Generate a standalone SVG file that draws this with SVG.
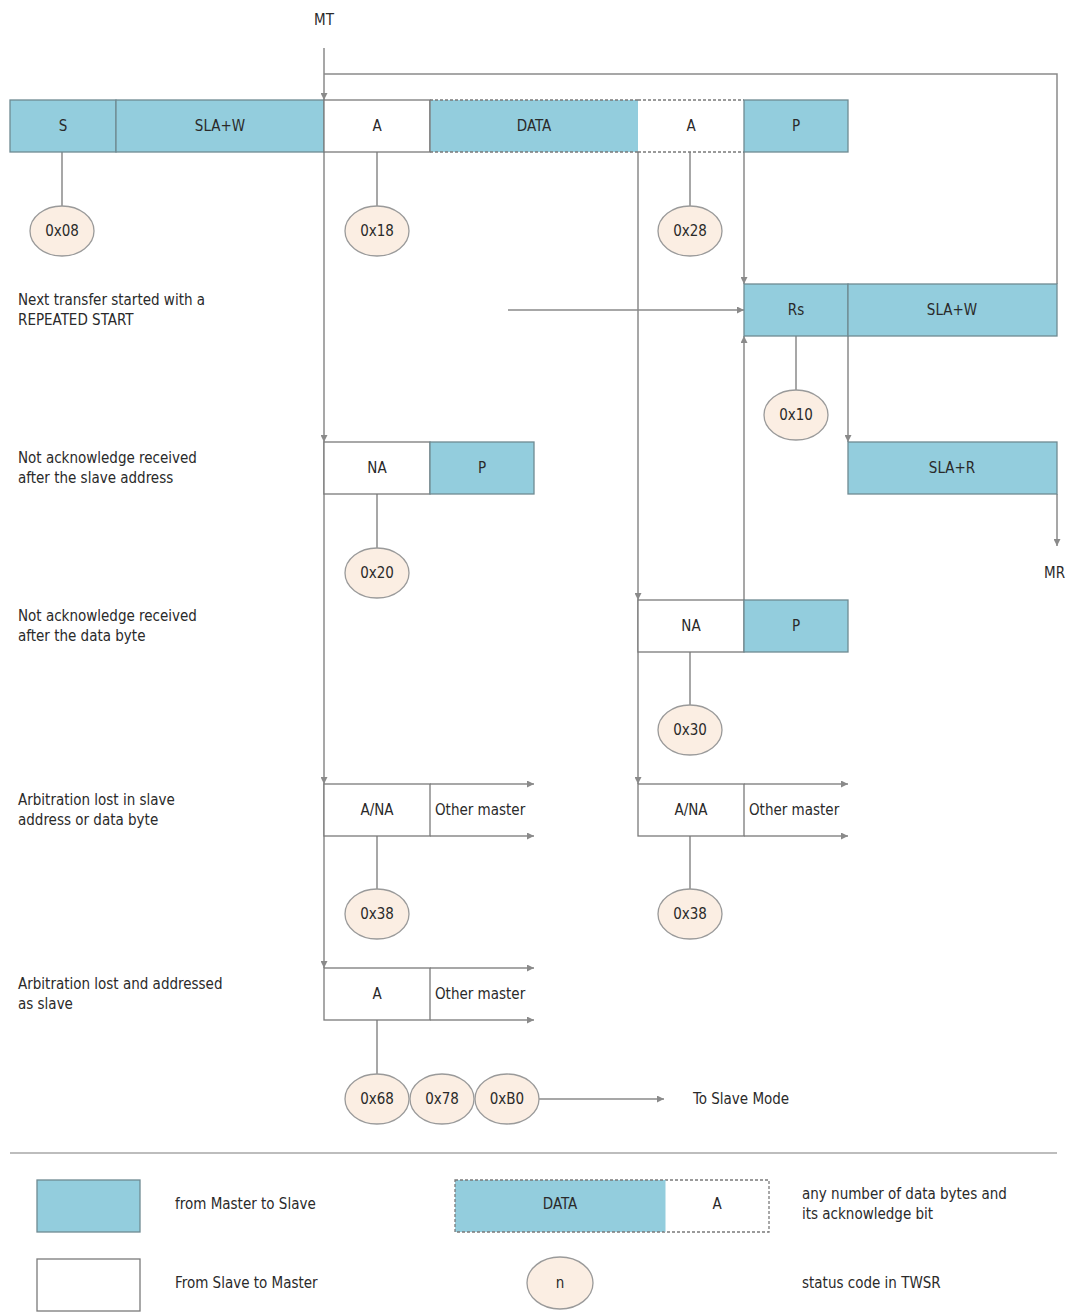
<svg xmlns="http://www.w3.org/2000/svg" width="1067" height="1312" viewBox="0 0 1067 1312">
<defs>
<marker id="ah" viewBox="0 0 10 10" refX="10" refY="5" markerWidth="7" markerHeight="7" orient="auto" markerUnits="userSpaceOnUse">
<path d="M0,0 L10,5 L0,10 Z" fill="#8a8a8a"/>
</marker>
<style>
text{font-family:"DejaVu Sans Condensed","Liberation Sans Narrow","Liberation Sans",sans-serif;font-size:15px;fill:#2a2a2a}
.c{text-anchor:middle}
.m{fill:#93cddd;stroke:#6f8a92;stroke-width:1.3}
.s{fill:#ffffff;stroke:#7a7a7a;stroke-width:1.3}
.d{fill:none;stroke:#7a7a7a;stroke-width:1.3;stroke-dasharray:3,2}
.st{fill:#fbeee3;stroke:#9a9a9a;stroke-width:1.3}
.ln{fill:none;stroke:#8a8a8a;stroke-width:1.5}
.ar{fill:none;stroke:#8a8a8a;stroke-width:1.5;marker-end:url(#ah)}
</style>
</defs>
<rect width="1067" height="1312" fill="#ffffff"/>

<g id="connectors">
<path class="ar" d="M324,48 V100"/>
<path class="ar" d="M324,100 V442"/>
<path class="ar" d="M324,442 V784"/>
<path class="ar" d="M324,784 V968"/>
<path class="ln" d="M324,74 H1057 V284"/>
<path class="ar" d="M638,152 V600"/>
<path class="ar" d="M638,600 V784"/>
<path class="ar" d="M744,152 V284"/>
<path class="ar" d="M744,600 V336"/>
<path class="ar" d="M508,310 H744"/>
<path class="ar" d="M848,336 V442"/>
<path class="ar" d="M1057,494 V546"/>
<path class="ln" d="M62,152 V206"/>
<path class="ln" d="M377,152 V206"/>
<path class="ln" d="M690,152 V206"/>
<path class="ln" d="M796,336 V390"/>
<path class="ln" d="M377,494 V548"/>
<path class="ln" d="M690,652 V705"/>
<path class="ln" d="M377,836 V889"/>
<path class="ln" d="M690,836 V889"/>
<path class="ln" d="M377,1020 V1074"/>
<path class="ar" d="M430,784 H534"/>
<path class="ar" d="M430,836 H534"/>
<path class="ar" d="M744,784 H848"/>
<path class="ar" d="M744,836 H848"/>
<path class="ar" d="M430,968 H534"/>
<path class="ar" d="M430,1020 H534"/>
<path class="ar" d="M539,1099 H664"/>
</g>

<text class="c" x="324" y="25">MT</text>
<text x="1044" y="578">MR</text>

<g id="row1">
<rect class="m" x="10" y="100" width="106" height="52"/>
<text class="c" x="63" y="131">S</text>
<rect class="m" x="116" y="100" width="208" height="52"/>
<text class="c" x="220" y="131">SLA+W</text>
<rect class="s" x="324" y="100" width="106" height="52"/>
<text class="c" x="377" y="131">A</text>
<rect x="430" y="100" width="208" height="52" fill="#93cddd"/>
<path class="d" d="M430,100 H638 M430,152 H638"/>
<path d="M430,100 V152" stroke="#7a7a7a" stroke-width="1.3"/>
<text class="c" x="534" y="131">DATA</text>
<path class="d" d="M638,100 H744 M638,152 H744"/>
<text class="c" x="691" y="131">A</text>
<rect class="m" x="744" y="100" width="104" height="52"/>
<text class="c" x="796" y="131">P</text>
</g>

<g id="rs-row">
<rect class="m" x="744" y="284" width="104" height="52"/>
<text class="c" x="796" y="315">Rs</text>
<rect class="m" x="848" y="284" width="209" height="52"/>
<text class="c" x="952" y="315">SLA+W</text>
</g>

<g id="slar-row">
<rect class="m" x="848" y="442" width="209" height="52"/>
<text class="c" x="952" y="473">SLA+R</text>
</g>

<g id="na-p-1">
<rect class="s" x="324" y="442" width="106" height="52"/>
<text class="c" x="377" y="473">NA</text>
<rect class="m" x="430" y="442" width="104" height="52"/>
<text class="c" x="482" y="473">P</text>
</g>

<g id="na-p-2">
<rect class="s" x="638" y="600" width="106" height="52"/>
<text class="c" x="691" y="631">NA</text>
<rect class="m" x="744" y="600" width="104" height="52"/>
<text class="c" x="796" y="631">P</text>
</g>

<g id="arb-1">
<rect class="s" x="324" y="784" width="106" height="52"/>
<text class="c" x="377" y="815">A/NA</text>
<text x="435" y="815">Other master</text>
</g>
<g id="arb-2">
<rect class="s" x="638" y="784" width="106" height="52"/>
<text class="c" x="691" y="815">A/NA</text>
<text x="749" y="815">Other master</text>
</g>
<g id="arb-3">
<rect class="s" x="324" y="968" width="106" height="52"/>
<text class="c" x="377" y="999">A</text>
<text x="435" y="999">Other master</text>
</g>

<g id="status-codes">
<ellipse class="st" cx="62" cy="231" rx="32" ry="25"/><text class="c" x="62" y="236">0x08</text>
<ellipse class="st" cx="377" cy="231" rx="32" ry="25"/><text class="c" x="377" y="236">0x18</text>
<ellipse class="st" cx="690" cy="231" rx="32" ry="25"/><text class="c" x="690" y="236">0x28</text>
<ellipse class="st" cx="796" cy="415" rx="32" ry="25"/><text class="c" x="796" y="420">0x10</text>
<ellipse class="st" cx="377" cy="573" rx="32" ry="25"/><text class="c" x="377" y="578">0x20</text>
<ellipse class="st" cx="690" cy="730" rx="32" ry="25"/><text class="c" x="690" y="735">0x30</text>
<ellipse class="st" cx="377" cy="914" rx="32" ry="25"/><text class="c" x="377" y="919">0x38</text>
<ellipse class="st" cx="690" cy="914" rx="32" ry="25"/><text class="c" x="690" y="919">0x38</text>
<ellipse class="st" cx="377" cy="1099" rx="32" ry="25"/><text class="c" x="377" y="1104">0x68</text>
<ellipse class="st" cx="442" cy="1099" rx="32" ry="25"/><text class="c" x="442" y="1104">0x78</text>
<ellipse class="st" cx="507" cy="1099" rx="32" ry="25"/><text class="c" x="507" y="1104">0xB0</text>
</g>

<text x="693" y="1104">To Slave Mode</text>

<g id="labels">
<text x="18" y="305">Next transfer started with a</text>
<text x="18" y="325">REPEATED START</text>
<text x="18" y="463">Not acknowledge received</text>
<text x="18" y="483">after the slave address</text>
<text x="18" y="621">Not acknowledge received</text>
<text x="18" y="641">after the data byte</text>
<text x="18" y="805">Arbitration lost in slave</text>
<text x="18" y="825">address or data byte</text>
<text x="18" y="989">Arbitration lost and addressed</text>
<text x="18" y="1009">as slave</text>
</g>

<path d="M10,1153 H1057" stroke="#bdbdbd" stroke-width="2"/>

<g id="legend">
<rect class="m" x="37" y="1180" width="103" height="52"/>
<text x="175" y="1209">from Master to Slave</text>
<rect class="s" x="37" y="1259" width="103" height="52"/>
<text x="175" y="1288">From Slave to Master</text>
<rect x="455" y="1180" width="210" height="52" fill="#93cddd"/>
<rect class="d" x="455" y="1180" width="314" height="52"/>
<path d="M665,1180 V1232" stroke="#93cddd" stroke-width="1"/>
<text class="c" x="560" y="1209">DATA</text>
<text class="c" x="717" y="1209">A</text>
<text x="802" y="1199">any number of data bytes and</text>
<text x="802" y="1219">its acknowledge bit</text>
<ellipse class="st" cx="560" cy="1283" rx="33" ry="26"/>
<text class="c" x="560" y="1288">n</text>
<text x="802" y="1288">status code in TWSR</text>
</g>
</svg>
